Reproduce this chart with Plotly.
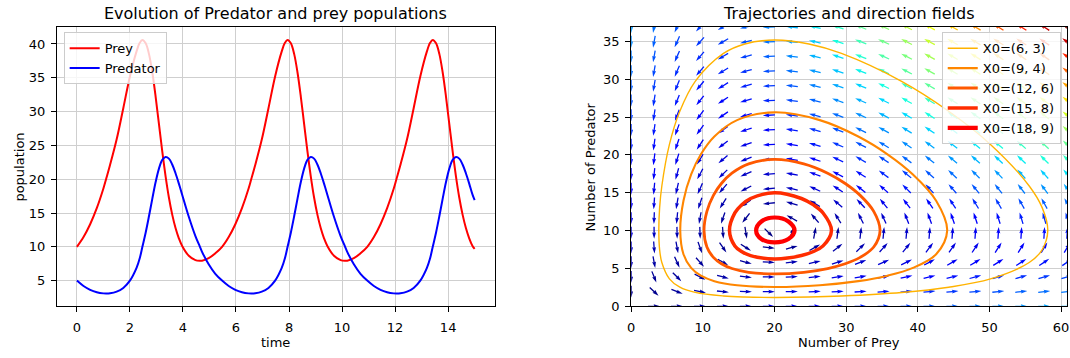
import numpy as np
import plotly.graph_objects as go

W, H = 1070, 358
FONT = "DejaVu Sans"

# ---------------- left panel: population time series ----------------
time = [0.0, 0.25, 0.5, 0.75, 1.0, 1.1, 1.25, 1.5, 1.75, 2.0, 2.25, 2.37, 2.47, 2.595, 2.72, 2.845,
        2.97, 3.095, 3.22, 3.345, 3.47, 3.595, 3.72, 3.845, 3.97, 4.22, 4.47, 4.64, 4.72, 4.97, 5.22,
        5.475, 5.725, 5.975, 6.225, 6.475, 6.575, 6.725, 6.975, 7.225, 7.475, 7.725, 7.845, 7.945,
        8.07, 8.195, 8.32, 8.445, 8.57, 8.695, 8.82, 8.945, 9.07, 9.195, 9.32, 9.445, 9.695, 9.945,
        10.115, 10.195, 10.445, 10.695,
        10.95, 11.2, 11.45, 11.7, 11.95, 12.05, 12.2, 12.45, 12.7, 12.95, 13.2, 13.32, 13.42, 13.545,
        13.67, 13.795, 13.92, 14.045, 14.17, 14.295, 14.42, 14.545, 14.67, 14.795, 14.92, 15.0]

prey = [10.0, 11.45, 13.34, 15.71, 18.62, 20.0, 22.1, 25.9, 30.5, 35.2, 38.9, 40.17, 40.6, 40.11, 38.5,
        35.78, 32.19, 28.14, 24.1, 20.42, 17.29, 14.76, 12.78, 11.26, 10.13, 8.68, 8.03, 7.93, 7.95, 8.31, 9.04,
        10.0, 11.45, 13.34, 15.71, 18.62, 20.0, 22.1, 25.9, 30.5, 35.2, 38.9, 40.17, 40.6, 40.11, 38.5,
        35.78, 32.19, 28.14, 24.1, 20.42, 17.29, 14.76, 12.78, 11.26, 10.13, 8.68, 8.03, 7.93, 7.95, 8.31, 9.04,
        10.0, 11.45, 13.34, 15.71, 18.62, 20.0, 22.1, 25.9, 30.5, 35.2, 38.9, 40.17, 40.6, 40.11, 38.5,
        35.78, 32.19, 28.14, 24.1, 20.42, 17.29, 14.76, 12.78, 11.26, 10.13, 9.7]

predator = [5.0, 4.2, 3.64, 3.29, 3.11, 3.09, 3.12, 3.36, 3.92, 4.99, 6.88, 8.3, 10.0, 12.12, 14.55,
            17.13, 19.58, 21.57, 22.85, 23.27, 23.04, 22.17, 20.88, 19.35, 17.71, 14.44, 11.58, 10.0, 9.25, 7.41, 6.0,
            5.0, 4.2, 3.64, 3.29, 3.11, 3.09, 3.12, 3.36, 3.92, 4.99, 6.88, 8.3, 10.0, 12.12, 14.55,
            17.13, 19.58, 21.57, 22.85, 23.27, 23.04, 22.17, 20.88, 19.35, 17.71, 14.44, 11.58, 10.0, 9.25, 7.41, 6.0,
            5.0, 4.2, 3.64, 3.29, 3.11, 3.09, 3.12, 3.36, 3.92, 4.99, 6.88, 8.3, 10.0, 12.12, 14.55,
            17.13, 19.58, 21.57, 22.85, 23.27, 23.04, 22.17, 20.88, 19.35, 17.71, 16.9]

left_xticks = [0, 2, 4, 6, 8, 10, 12, 14]
left_yticks = [5, 10, 15, 20, 25, 30, 35, 40]

# ---------------- right panel: phase-plane trajectories ----------------
traj_labels = ["X0=(6, 3)", "X0=(9, 4)", "X0=(12, 6)", "X0=(15, 8)", "X0=(18, 9)"]

traj1_x = [20, 24.82, 29.35, 37.74, 44.31, 50.14, 55.55, 57.37, 58.14, 57.37, 55.55, 50.14, 44.31, 37.74,
           29.35, 24.82, 20, 15.86, 12.88, 8.94, 6.79, 5.34, 4.28, 3.97, 3.86, 3.97, 4.28, 5.34, 6.79, 8.94,
           12.88, 15.86, 20]
traj1_y = [1.17, 1.22, 1.36, 1.83, 2.52, 3.62, 5.78, 7.50, 10.0, 13.0, 15.89, 21.38, 25.76, 29.71,
           33.40, 34.65, 35.18, 34.65, 33.40, 29.71, 25.76, 21.38, 15.89, 13.0, 10.0, 7.50, 5.78, 3.62, 2.52, 1.83,
           1.36, 1.22, 1.17]

traj2_x = [20, 26.32, 31.69, 35.77, 39.32, 42.56, 44.10, 42.56, 39.32, 35.77, 31.69, 26.32, 20, 14.78,
           11.61, 9.73, 8.37, 7.30, 6.85, 7.30, 8.37, 9.73, 11.61, 14.78, 20]
traj2_y = [2.55, 2.78, 3.32, 4.04, 5.07, 6.88, 10.0, 13.95, 17.41, 20.08, 22.43, 24.59, 25.62, 24.59,
           22.43, 20.08, 17.41, 13.95, 10.0, 6.88, 5.07, 4.04, 3.32, 2.78, 2.55]

traj3_x = [20, 24.09, 27.42, 29.87, 31.96, 33.85, 34.73, 33.85, 31.96, 29.87, 27.42, 24.09, 20, 16.40,
           14.06, 12.59, 11.48, 10.57, 10.17, 10.57, 11.48, 12.59, 14.06, 16.40, 20]
traj3_y = [4.28, 4.49, 4.99, 5.62, 6.46, 7.83, 10.0, 12.54, 14.65, 16.22, 17.58, 18.81, 19.40, 18.81,
           17.58, 16.22, 14.65, 12.54, 10.0, 7.83, 6.46, 5.62, 4.99, 4.49, 4.28]

traj4_x = [20, 23.76, 25.44, 26.78, 27.95, 26.78, 25.44, 23.76, 20, 16.66, 15.40, 14.47, 13.72, 14.47,
           15.40, 16.66, 20]
traj4_y = [6.26, 6.70, 7.24, 7.98, 10.0, 12.33, 13.39, 14.24, 14.99, 14.24, 13.39, 12.33, 10.0, 7.98,
           7.24, 6.70, 6.26]

traj5_x = [20, 21.95, 22.80, 21.95, 20, 18.17, 17.44, 18.17, 20]
traj5_y = [8.45, 8.89, 10.0, 11.20, 11.73, 11.20, 10.0, 8.89, 8.45]

traj_colors = ["rgb(255,179,0)", "rgb(255,134,0)", "rgb(255,89,0)", "rgb(255,44,0)", "rgb(255,0,0)"]
traj_widths = [1.4, 2.1, 2.8, 3.5, 4.2]

right_xticks = [0, 10, 20, 30, 40, 50, 60]
right_yticks = [0, 5, 10, 15, 20, 25, 30, 35]

# Lotka-Volterra model parameters defining the direction field
alpha, beta, gamma, delta = 1.0, 0.1, 1.5, 0.75
n_field = 20

# ---------------- layout geometry ----------------
L_X = [53.3 / W, 493.3 / W]
R_X = [630.7 / W, 1069.2 / W]
P_Y = [1 - 313.3 / H, 1 - 27.7 / H]
L_XR = [-0.75, 15.75]
L_YR = [1.2, 42.5]
R_XR = [0, 60.85]
R_YR = [0, 36.88]

fig = go.Figure()

# ---------------- direction field (quiver) ----------------
def jet(v):
    r = np.interp(v, [0, 0.35, 0.66, 0.89, 1], [0, 0, 1, 1, 0.5])
    g = np.interp(v, [0, 0.125, 0.375, 0.64, 0.91, 1], [0, 0, 1, 1, 0, 0])
    b = np.interp(v, [0, 0.11, 0.34, 0.65, 1], [0.5, 1, 1, 0, 0])
    return "rgb(%d,%d,%d)" % (round(r * 255), round(g * 255), round(b * 255))

ax_w = (R_X[1] - R_X[0]) * W
ax_h = (P_Y[1] - P_Y[0]) * H
sx = ax_w / (R_XR[1] - R_XR[0])
sy = ax_h / (R_YR[1] - R_YR[0])

gx = np.linspace(0, R_XR[1], n_field)
gy = np.linspace(0, R_YR[1], n_field)
GX, GY = np.meshgrid(gx, gy)
DX = alpha * GX - beta * GX * GY
DY = -gamma * GY + delta * beta * GX * GY
M = np.hypot(DX, DY)
M[M == 0] = 1.0
U = DX / M
V = DY / M
norm = (M - M.min()) / (M.max() - M.min())

wd = 0.003 * ax_w          # shaft width (px)
Lp = ax_w / 36.0           # arrow length (px)
hl, hal, hw = 5 * wd, 4.5 * wd, 1.5 * wd
tmpl = np.array([[0, -0.5 * wd], [Lp - hal, -0.5 * wd], [Lp - hl, -hw], [Lp, 0],
                 [Lp - hl, hw], [Lp - hal, 0.5 * wd], [0, 0.5 * wd]])
tmpl[:, 0] -= Lp / 2

groups = {}
for i in range(n_field):
    for j in range(n_field):
        u, v = U[i, j], V[i, j]
        if u == 0 and v == 0:
            continue
        th = np.arctan2(v, u)
        c, s = np.cos(th), np.sin(th)
        px = tmpl[:, 0] * c - tmpl[:, 1] * s
        py = tmpl[:, 0] * s + tmpl[:, 1] * c
        xs = list(GX[i, j] + px / sx) + [GX[i, j] + px[0] / sx, None]
        ys = list(GY[i, j] + py / sy) + [GY[i, j] + py[0] / sy, None]
        k = min(int(norm[i, j] * 256), 255)
        gxs, gys = groups.setdefault(k, ([], []))
        gxs.extend(xs)
        gys.extend(ys)

for k, (xs, ys) in sorted(groups.items()):
    col = jet(k / 255.0)
    fig.add_trace(go.Scatter(x=xs, y=ys, mode="lines", fill="toself", fillcolor=col,
                             line=dict(width=0, color=col), hoverinfo="skip",
                             showlegend=False, xaxis="x2", yaxis="y2"))

# ---------------- trajectories ----------------
trajs = [(traj1_x, traj1_y), (traj2_x, traj2_y), (traj3_x, traj3_y), (traj4_x, traj4_y), (traj5_x, traj5_y)]
for (tx, ty), lab, col, lw in zip(trajs, traj_labels, traj_colors, traj_widths):
    fig.add_trace(go.Scatter(x=tx, y=ty, mode="lines", name=lab,
                             line=dict(color=col, width=lw, shape="spline"),
                             xaxis="x2", yaxis="y2", legend="legend2"))

# ---------------- time series ----------------
fig.add_trace(go.Scatter(x=time, y=prey, mode="lines", name="Prey",
                         line=dict(color="#ff0000", width=2, shape="spline"), xaxis="x", yaxis="y"))
fig.add_trace(go.Scatter(x=time, y=predator, mode="lines", name="Predator",
                         line=dict(color="#0000ff", width=2, shape="spline"), xaxis="x", yaxis="y"))

axis_common = dict(showline=True, linecolor="#000", linewidth=1, mirror=True, ticks="outside",
                   ticklen=5, tickwidth=1, tickcolor="#000", showgrid=True, gridcolor="#cfcfcf",
                   gridwidth=1, zeroline=False, tickfont=dict(family=FONT, size=13, color="#000"))

legend_common = dict(bgcolor="rgba(255,255,255,0.8)", bordercolor="#cccccc", borderwidth=1,
                     font=dict(family=FONT, size=13, color="#000"), yanchor="top")

ann = []
def add_text(text, x, y, size, angle=0):
    ann.append(dict(text=text, x=x / W, y=1 - y / H, xref="paper", yref="paper", showarrow=False,
                    xanchor="center", yanchor="middle", textangle=angle,
                    font=dict(family=FONT, size=size, color="#000")))

add_text("Evolution of Predator and prey populations", 273.3, 13.5, 16)
add_text("Trajectories and direction fields", 850, 13.5, 16)
add_text("time", 273.3, 350, 13)
add_text("Number of Prey", 850, 350, 13)
add_text("population", 16, 170.5, 13, -90)
add_text("Number of Predator", 590, 170.5, 13, -90)

fig.update_layout(
    width=W, height=H, margin=dict(l=0, r=0, t=0, b=0),
    paper_bgcolor="white", plot_bgcolor="white",
    font=dict(family=FONT, size=13, color="#000"),
    xaxis=dict(domain=L_X, range=L_XR, tickvals=left_xticks, anchor="y", ticklabelstandoff=4,
               **axis_common),
    yaxis=dict(domain=P_Y, range=L_YR, tickvals=left_yticks, anchor="x", ticklabelstandoff=3,
               **axis_common),
    xaxis2=dict(domain=R_X, range=R_XR, tickvals=right_xticks, anchor="y2", ticklabelstandoff=4,
                ticklabeloverflow="allow", **axis_common),
    yaxis2=dict(domain=P_Y, range=R_YR, tickvals=right_yticks, anchor="x2", ticklabelstandoff=3,
                **axis_common),
    legend=dict(x=60 / W, y=1 - 33 / H, xanchor="left", **legend_common),
    legend2=dict(x=1062.7 / W, y=1 - 33 / H, xanchor="right", **legend_common),
    annotations=ann,
    showlegend=True,
)

fig.write_html("out.html")
